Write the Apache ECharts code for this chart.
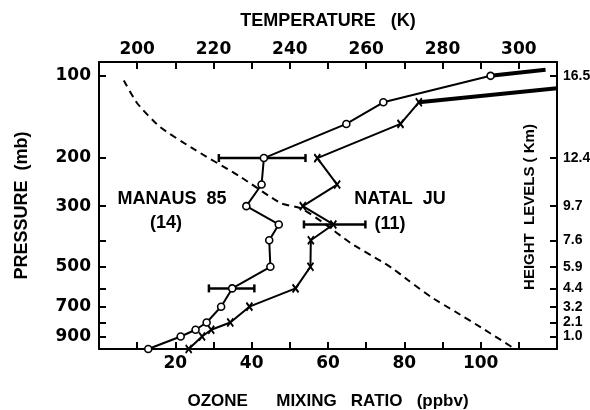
<!DOCTYPE html>
<html>
<head>
<meta charset="utf-8">
<script src="https://cdn.jsdelivr.net/npm/echarts@6/dist/echarts.min.js"></script>
<style>
html,body{margin:0;padding:0;background:#fff;}
#chart{width:590px;height:410px;}
</style>
</head>
<body>
<div id="chart"></div>
<script>
// ---- data ----
const manausOzone    = [12.9, 21.4, 25.3, 28.2, 32.0, 34.9, 44.9, 44.6, 47.1, 38.6, 42.6, 43.2, 64.8, 74.5, 102.6];
const manausPressure = [1000, 900, 850, 800, 700, 600, 500, 400, 350, 300, 250, 200, 150, 125, 100];
const manausTopOzone    = [102.6, 117];
const manausTopPressure = [100, 95];

const natalOzone    = [23.5, 27.0, 29.4, 34.4, 39.4, 51.5, 55.4, 55.5, 61.4, 53.4, 62.4, 57.2, 79.0, 83.8];
const natalPressure = [1000, 900, 850, 800, 700, 600, 500, 400, 350, 300, 250, 200, 150, 125];
const natalTopOzone    = [83.8, 120];
const natalTopPressure = [125, 111];

const errPressure = [200, 600, 350];
const errLow      = [31.4, 28.8, 53.7];
const errHigh     = [54.1, 40.7, 69.8];

const tempK        = [196.5, 200, 206, 215, 227, 237.5, 243, 248.5, 256, 264, 267, 271, 277, 283.5, 290.5, 298.5];
const tempPressure = [104, 126, 154, 186, 234, 292, 306, 343, 410, 478, 508, 560, 645, 732, 841, 990];

const pressureTicks  = [100, 200, 300, 400, 500, 600, 700, 800, 900];
const pressureLabels = [100, 200, 300, 500, 700, 900];
const heightLabels   = ['16.5', '12.4', '9.7', '7.6', '5.9', '4.4', '3.2', '2.1', '1.0'];
const ozoneLabels    = [20, 40, 60, 80, 100];
const tempLabels     = [200, 220, 240, 260, 280, 300];

const pressureMin = 89, pressureMax = 1000;

// ---- helpers ----
const lg = Math.log10;
const pairs = (xs, ps) => xs.map((x, i) => [x, lg(ps[i])]);
const TICK_FONT = '"DejaVu Sans"';
const TITLE_FONT = '"Liberation Sans"';
const xMark = 'path://M0,0L10,10M10,0L0,10';

const axisLine = {show: true, onZero: false, lineStyle: {color: '#000', width: 2}};
const tickStyle = {inside: true, length: 7, lineStyle: {color: '#000', width: 2}};

const chart = echarts.init(document.getElementById('chart'), null, {renderer: 'canvas'});
chart.setOption({
  backgroundColor: '#fff',
  animation: false,
  grid: {left: 99, right: 33, top: 62, bottom: 61, containLabel: false, outerBoundsMode: 'none'},
  xAxis: [
    {
      type: 'value', position: 'bottom', min: 0, max: 120, interval: 10,
      axisLine, axisTick: tickStyle, splitLine: {show: false},
      axisLabel: {
        margin: 6, color: '#000', fontFamily: TICK_FONT, fontWeight: 'bold', fontSize: 17,
        formatter: v => ozoneLabels.includes(v) ? String(v) : ''
      },
      name: 'OZONE      MIXING   RATIO   (ppbv)', nameLocation: 'middle', nameGap: 44,
      nameTextStyle: {color: '#000', fontFamily: TITLE_FONT, fontWeight: 'bold', fontSize: 17}
    },
    {
      type: 'value', position: 'top', min: 190, max: 310, interval: 10,
      axisLine, axisTick: tickStyle, splitLine: {show: false},
      axisLabel: {
        margin: 4, color: '#000', fontFamily: TICK_FONT, fontWeight: 'bold', fontSize: 17,
        formatter: v => tempLabels.includes(v) ? String(v) : ''
      },
      name: 'TEMPERATURE   (K)', nameLocation: 'middle', nameGap: 32,
      nameTextStyle: {color: '#000', fontFamily: TITLE_FONT, fontWeight: 'bold', fontSize: 18}
    }
  ],
  yAxis: [
    {
      type: 'value', position: 'left', inverse: true, min: lg(pressureMin), max: lg(pressureMax),
      axisLine, splitLine: {show: false},
      axisTick: Object.assign({customValues: pressureTicks.map(lg)}, tickStyle),
      axisLabel: {
        customValues: pressureLabels.map(lg),
        margin: 8, color: '#000', fontFamily: TICK_FONT, fontWeight: 'bold', fontSize: 17,
        formatter: v => String(Math.round(Math.pow(10, v)))
      },
      name: 'PRESSURE  (mb)', nameLocation: 'middle', nameGap: 68, nameRotate: 90,
      nameTextStyle: {color: '#000', fontFamily: TITLE_FONT, fontWeight: 'bold', fontSize: 18}
    },
    {
      type: 'value', position: 'right', inverse: true, min: lg(pressureMin), max: lg(pressureMax),
      axisLine, splitLine: {show: false},
      axisTick: Object.assign({customValues: pressureTicks.map(lg)}, tickStyle),
      axisLabel: {
        customValues: pressureTicks.map(lg), hideOverlap: false,
        margin: 6, color: '#000', fontFamily: TITLE_FONT, fontWeight: 'bold', fontSize: 14,
        formatter: v => {
          const p = Math.round(Math.pow(10, v));
          const i = pressureTicks.indexOf(p);
          return i >= 0 ? heightLabels[i] : '';
        }
      }
    }
  ],
  graphic: [
    {type: 'text', x: 172, y: 199, style: {text: 'MANAUS  85', font: 'bold 18px "Liberation Sans"', fill: '#000', align: 'center', verticalAlign: 'middle'}},
    {type: 'text', x: 166, y: 223, style: {text: '(14)', font: 'bold 18px "Liberation Sans"', fill: '#000', align: 'center', verticalAlign: 'middle'}},
    {type: 'text', x: 400, y: 199, style: {text: 'NATAL  JU', font: 'bold 18px "Liberation Sans"', fill: '#000', align: 'center', verticalAlign: 'middle'}},
    {type: 'text', x: 390, y: 224, style: {text: '(11)', font: 'bold 18px "Liberation Sans"', fill: '#000', align: 'center', verticalAlign: 'middle'}},
    {type: 'text', x: 530, y: 207, rotation: Math.PI / 2, style: {text: 'HEIGHT  LEVELS ( Km)', font: 'bold 15px "Liberation Sans"', fill: '#000', align: 'center', verticalAlign: 'middle'}}
  ],
  series: [
    {
      name: 'Temperature', type: 'line', xAxisIndex: 1, yAxisIndex: 0,
      data: pairs(tempK, tempPressure), showSymbol: false, smooth: 0.2,
      lineStyle: {color: '#000', width: 2, type: [7, 5]}, z: 1
    },
    {
      name: 'Manaus top', type: 'line', xAxisIndex: 0, yAxisIndex: 0,
      data: pairs(manausTopOzone, manausTopPressure), showSymbol: false,
      lineStyle: {color: '#000', width: 4}, z: 2
    },
    {
      name: 'Natal top', type: 'line', xAxisIndex: 0, yAxisIndex: 0,
      data: pairs(natalTopOzone, natalTopPressure), showSymbol: false,
      lineStyle: {color: '#000', width: 4}, z: 2
    },
    {
      name: 'Error bars', type: 'custom', xAxisIndex: 0, yAxisIndex: 0,
      data: errPressure.map((p, i) => [lg(p), errLow[i], errHigh[i]]),
      encode: {x: [1, 2], y: 0},
      renderItem: (params, api) => {
        const y = api.value(0);
        const a = api.coord([api.value(1), y]);
        const b = api.coord([api.value(2), y]);
        const st = {stroke: '#000', lineWidth: 2.5};
        return {type: 'group', children: [
          {type: 'line', shape: {x1: a[0], y1: a[1], x2: b[0], y2: b[1]}, style: st},
          {type: 'line', shape: {x1: a[0], y1: a[1] - 4, x2: a[0], y2: a[1] + 4}, style: st},
          {type: 'line', shape: {x1: b[0], y1: b[1] - 4, x2: b[0], y2: b[1] + 4}, style: st}
        ]};
      }, z: 3
    },
    {
      name: 'Manaus 85', type: 'line', xAxisIndex: 0, yAxisIndex: 0,
      data: pairs(manausOzone, manausPressure),
      symbol: 'circle', symbolSize: 7,
      itemStyle: {color: '#fff', borderColor: '#000', borderWidth: 1.6},
      lineStyle: {color: '#000', width: 2}, z: 4
    },
    {
      name: 'Natal JU', type: 'line', xAxisIndex: 0, yAxisIndex: 0,
      data: pairs(natalOzone, natalPressure),
      symbol: xMark, symbolSize: [6, 8], symbolKeepAspect: false,
      itemStyle: {color: '#000', borderColor: '#000', borderWidth: 2},
      lineStyle: {color: '#000', width: 2}, z: 4
    }
  ]
});
</script>
</body>
</html>
